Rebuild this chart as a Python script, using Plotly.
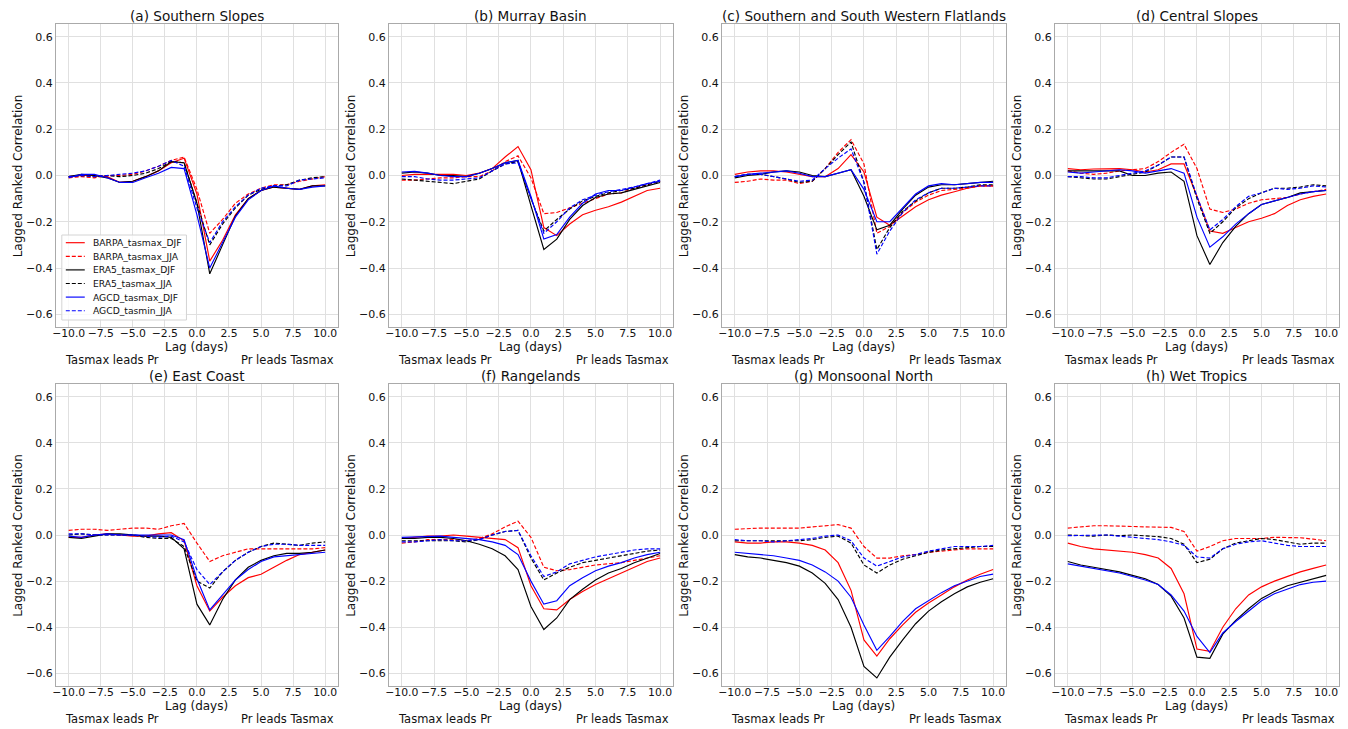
import plotly.graph_objects as go

# Lag in days (negative: Tasmax leads Pr, positive: Pr leads Tasmax)
lags = list(range(-10, 11))

regions = [
    "(a) Southern Slopes",
    "(b) Murray Basin",
    "(c) Southern and South Western Flatlands",
    "(d) Central Slopes",
    "(e) East Coast",
    "(f) Rangelands",
    "(g) Monsoonal North",
    "(h) Wet Tropics",
]

# One row per region, in the order of `regions`
barpa_tasmax_djf = [
    [-0.005, 0.0, 0.0, -0.005, -0.03, -0.025, -0.005, 0.02, 0.055, 0.075, -0.08, -0.37, -0.28, -0.17, -0.1, -0.065, -0.05, -0.055, -0.06, -0.045, -0.04],
    [0.0, 0.005, 0.005, 0.005, 0.005, 0.0, 0.01, 0.03, 0.08, 0.125, 0.025, -0.225, -0.26, -0.21, -0.17, -0.15, -0.135, -0.115, -0.09, -0.065, -0.055],
    [0.005, 0.015, 0.02, 0.02, 0.015, 0.005, -0.005, -0.005, 0.03, 0.09, 0.015, -0.18, -0.215, -0.175, -0.135, -0.105, -0.085, -0.07, -0.055, -0.045, -0.045],
    [0.03, 0.025, 0.028, 0.03, 0.03, 0.025, 0.015, 0.025, 0.05, 0.05, -0.09, -0.24, -0.25, -0.225, -0.2, -0.185, -0.165, -0.13, -0.105, -0.09, -0.08],
    [-0.01, -0.01, 0.0, 0.005, 0.0, -0.005, -0.005, 0.005, 0.01, -0.025, -0.22, -0.33, -0.27, -0.22, -0.185, -0.17, -0.14, -0.11, -0.085, -0.075, -0.065],
    [-0.015, -0.01, -0.005, -0.005, 0.0, -0.005, -0.01, -0.015, -0.02, -0.055, -0.22, -0.32, -0.325, -0.28, -0.245, -0.215, -0.19, -0.165, -0.14, -0.115, -0.1],
    [-0.03, -0.035, -0.035, -0.03, -0.03, -0.035, -0.045, -0.065, -0.12, -0.24, -0.455, -0.525, -0.45, -0.39, -0.335, -0.295, -0.26, -0.225, -0.195, -0.17, -0.15],
    [-0.035, -0.05, -0.06, -0.065, -0.07, -0.075, -0.085, -0.1, -0.145, -0.255, -0.495, -0.505, -0.4, -0.32, -0.26, -0.225, -0.2, -0.18, -0.16, -0.145, -0.13],
]

barpa_tasmax_jja = [
    [-0.01, -0.005, -0.01, 0.0, 0.0, 0.005, 0.02, 0.04, 0.065, 0.08, -0.06, -0.25, -0.19, -0.12, -0.08, -0.055, -0.04, -0.04, -0.025, -0.015, -0.005],
    [-0.02, -0.02, -0.015, -0.01, -0.01, -0.005, -0.005, 0.02, 0.06, 0.085, -0.01, -0.165, -0.16, -0.14, -0.12, -0.1, -0.08, -0.075, -0.055, -0.04, -0.025],
    [-0.03, -0.025, -0.015, -0.02, -0.02, -0.035, -0.025, 0.03, 0.1, 0.155, 0.05, -0.25, -0.22, -0.16, -0.115, -0.085, -0.065, -0.06, -0.055, -0.045, -0.045],
    [0.02, 0.01, 0.005, 0.01, 0.02, 0.025, 0.03, 0.06, 0.1, 0.135, 0.03, -0.145, -0.16, -0.145, -0.12, -0.105, -0.1, -0.095, -0.08, -0.07, -0.06],
    [0.02, 0.025, 0.025, 0.02, 0.025, 0.03, 0.03, 0.025, 0.04, 0.05, -0.035, -0.115, -0.09, -0.075, -0.06, -0.06, -0.06, -0.06, -0.06, -0.06, -0.055],
    [-0.035, -0.03, -0.02, -0.02, -0.02, -0.025, -0.015, 0.005, 0.035, 0.06, -0.01, -0.14, -0.155, -0.15, -0.14, -0.13, -0.125, -0.12, -0.11, -0.1, -0.09],
    [0.025, 0.028, 0.03, 0.03, 0.03, 0.03, 0.035, 0.04, 0.045, 0.03, -0.05, -0.1, -0.1, -0.09, -0.085, -0.075, -0.07, -0.065, -0.06, -0.06, -0.06],
    [0.03, 0.035, 0.04, 0.04, 0.04, 0.037, 0.035, 0.035, 0.033, 0.015, -0.07, -0.05, -0.025, -0.015, -0.015, -0.015, -0.01, -0.01, -0.012, -0.018, -0.025],
]

era5_tasmax_djf = [
    [-0.005, 0.005, 0.0, -0.01, -0.03, -0.025, -0.005, 0.02, 0.06, 0.055, -0.12, -0.425, -0.3, -0.175, -0.1, -0.065, -0.05, -0.055, -0.06, -0.045, -0.045],
    [0.01, 0.015, 0.01, 0.0, 0.0, -0.005, 0.01, 0.03, 0.055, 0.065, -0.13, -0.32, -0.275, -0.19, -0.13, -0.095, -0.08, -0.075, -0.06, -0.045, -0.03],
    [-0.01, 0.0, 0.005, 0.015, 0.02, 0.015, 0.0, -0.005, 0.01, 0.025, -0.09, -0.235, -0.215, -0.145, -0.085, -0.05, -0.04, -0.04, -0.035, -0.03, -0.025],
    [0.02, 0.02, 0.02, 0.02, 0.02, 0.0, 0.0, 0.01, 0.015, -0.025, -0.26, -0.385, -0.29, -0.22, -0.165, -0.125, -0.11, -0.095, -0.075, -0.07, -0.065],
    [-0.01, -0.015, -0.005, 0.005, 0.005, 0.0, -0.005, -0.005, -0.01, -0.06, -0.3, -0.39, -0.28, -0.195, -0.14, -0.11, -0.09, -0.08, -0.08, -0.075, -0.065],
    [-0.015, -0.015, -0.01, -0.01, -0.015, -0.025, -0.04, -0.06, -0.09, -0.15, -0.31, -0.41, -0.36, -0.28, -0.235, -0.195, -0.165, -0.145, -0.12, -0.1, -0.08],
    [-0.085, -0.095, -0.1, -0.11, -0.12, -0.135, -0.165, -0.21, -0.28, -0.4, -0.57, -0.62, -0.53, -0.455, -0.385, -0.33, -0.29, -0.255, -0.225, -0.205, -0.19],
    [-0.115, -0.13, -0.14, -0.15, -0.16, -0.175, -0.19, -0.215, -0.265, -0.36, -0.53, -0.535, -0.43, -0.37, -0.32, -0.275, -0.245, -0.22, -0.205, -0.19, -0.175],
]

era5_tasmax_jja = [
    [-0.005, 0.0, -0.005, 0.0, -0.005, 0.0, 0.01, 0.03, 0.06, 0.055, -0.12, -0.3, -0.21, -0.14, -0.085, -0.06, -0.045, -0.04, -0.02, -0.01, -0.005],
    [-0.015, -0.02, -0.025, -0.03, -0.035, -0.025, -0.015, 0.02, 0.05, 0.06, -0.1, -0.24, -0.19, -0.145, -0.11, -0.09, -0.075, -0.065, -0.055, -0.04, -0.025],
    [-0.005, 0.005, 0.005, -0.005, -0.015, -0.03, -0.025, 0.03, 0.09, 0.145, -0.03, -0.32, -0.225, -0.155, -0.11, -0.075, -0.055, -0.055, -0.05, -0.04, -0.04],
    [-0.005, -0.01, -0.015, -0.015, -0.005, 0.005, 0.015, 0.045, 0.08, 0.08, -0.1, -0.25, -0.2, -0.14, -0.1, -0.075, -0.055, -0.055, -0.05, -0.04, -0.045],
    [0.0, 0.005, 0.0, 0.0, 0.0, 0.0, -0.01, -0.015, -0.015, -0.05, -0.2, -0.23, -0.16, -0.11, -0.075, -0.05, -0.035, -0.04, -0.045, -0.035, -0.03],
    [-0.025, -0.025, -0.025, -0.025, -0.025, -0.03, -0.02, 0.0, 0.015, 0.02, -0.1, -0.195, -0.165, -0.14, -0.12, -0.11, -0.1, -0.09, -0.08, -0.07, -0.065],
    [-0.025, -0.025, -0.025, -0.025, -0.025, -0.025, -0.02, -0.01, -0.005, -0.035, -0.13, -0.165, -0.13, -0.105, -0.09, -0.075, -0.065, -0.06, -0.055, -0.05, -0.05],
    [0.0, -0.003, -0.005, 0.0, -0.003, 0.0, -0.003, -0.007, -0.015, -0.04, -0.12, -0.105, -0.06, -0.035, -0.025, -0.015, -0.02, -0.03, -0.04, -0.035, -0.035],
]

agcd_tasmax_djf = [
    [-0.01, 0.005, 0.005, -0.01, -0.03, -0.03, -0.01, 0.01, 0.035, 0.03, -0.17, -0.4, -0.29, -0.18, -0.105, -0.065, -0.045, -0.055, -0.06, -0.05, -0.045],
    [0.015, 0.018, 0.01, 0.0, -0.005, -0.005, 0.01, 0.03, 0.055, 0.065, -0.09, -0.275, -0.255, -0.18, -0.12, -0.08, -0.065, -0.065, -0.05, -0.035, -0.025],
    [-0.005, 0.005, 0.01, 0.015, 0.02, 0.01, -0.005, -0.005, 0.01, 0.025, -0.06, -0.2, -0.2, -0.14, -0.08, -0.045, -0.035, -0.04, -0.035, -0.03, -0.03],
    [0.015, 0.01, 0.015, 0.02, 0.025, 0.02, 0.01, 0.02, 0.03, 0.01, -0.18, -0.31, -0.265, -0.21, -0.165, -0.125, -0.11, -0.095, -0.08, -0.07, -0.065],
    [-0.005, -0.01, 0.0, 0.005, 0.0, 0.0, 0.0, 0.0, 0.0, -0.02, -0.19, -0.325, -0.26, -0.195, -0.15, -0.115, -0.095, -0.09, -0.085, -0.08, -0.075],
    [-0.01, -0.008, -0.005, -0.005, -0.01, -0.015, -0.02, -0.03, -0.045, -0.085, -0.2, -0.3, -0.285, -0.22, -0.185, -0.155, -0.135, -0.12, -0.1, -0.085, -0.075],
    [-0.075, -0.08, -0.085, -0.09, -0.1, -0.11, -0.13, -0.16, -0.2, -0.27, -0.39, -0.5, -0.44, -0.375, -0.32, -0.285, -0.25, -0.22, -0.2, -0.18, -0.17],
    [-0.125, -0.135, -0.145, -0.155, -0.165, -0.18, -0.195, -0.215, -0.26, -0.33, -0.44, -0.51, -0.425, -0.375, -0.33, -0.285, -0.255, -0.235, -0.215, -0.205, -0.2],
]

agcd_tasmin_jja = [
    [-0.005, 0.0, -0.005, 0.0, 0.005, 0.01, 0.02, 0.04, 0.065, 0.04, -0.14, -0.29, -0.2, -0.135, -0.085, -0.055, -0.045, -0.045, -0.02, -0.015, -0.01],
    [-0.005, -0.005, -0.015, -0.02, -0.02, -0.015, -0.01, 0.02, 0.05, 0.055, -0.095, -0.25, -0.2, -0.14, -0.105, -0.085, -0.07, -0.06, -0.05, -0.035, -0.02],
    [-0.005, 0.005, 0.005, -0.005, -0.015, -0.025, -0.02, 0.03, 0.075, 0.115, -0.03, -0.34, -0.24, -0.16, -0.105, -0.075, -0.055, -0.055, -0.05, -0.045, -0.045],
    [-0.005, -0.005, -0.01, -0.01, 0.0, 0.01, 0.02, 0.045, 0.08, 0.08, -0.09, -0.235, -0.19, -0.135, -0.09, -0.075, -0.055, -0.06, -0.055, -0.045, -0.05],
    [0.005, 0.005, 0.0, 0.0, 0.0, 0.0, -0.005, -0.01, -0.005, -0.03, -0.15, -0.215, -0.16, -0.11, -0.075, -0.05, -0.04, -0.04, -0.045, -0.045, -0.045],
    [-0.03, -0.03, -0.025, -0.02, -0.025, -0.025, -0.02, 0.0, 0.015, 0.02, -0.09, -0.18, -0.16, -0.125, -0.11, -0.095, -0.085, -0.075, -0.065, -0.06, -0.06],
    [-0.02, -0.025, -0.025, -0.03, -0.025, -0.02, -0.015, -0.005, 0.0, -0.025, -0.1, -0.135, -0.115, -0.095, -0.085, -0.07, -0.06, -0.05, -0.05, -0.05, -0.045],
    [-0.003, -0.003, -0.003, 0.0, -0.005, -0.01, -0.015, -0.02, -0.03, -0.045, -0.095, -0.1, -0.06, -0.04, -0.03, -0.025, -0.035, -0.045, -0.05, -0.05, -0.05],
]

DASH = "4px,2px"
series = [
    ("BARPA_tasmax_DJF", barpa_tasmax_djf, "#ff0000", "solid"),
    ("BARPA_tasmax_JJA", barpa_tasmax_jja, "#ff0000", DASH),
    ("ERA5_tasmax_DJF", era5_tasmax_djf, "#000000", "solid"),
    ("ERA5_tasmax_JJA", era5_tasmax_jja, "#000000", DASH),
    ("AGCD_tasmax_DJF", agcd_tasmax_djf, "#0000ff", "solid"),
    ("AGCD_tasmin_JJA", agcd_tasmin_jja, "#0000ff", DASH),
]

W, H = 1348, 729
# Panel boxes in pixels: (left, right) per column, (top, bottom) per row
col_px = [(52, 335), (386, 671), (720, 1005), (1054, 1339)]
row_px = [(24, 327), (384, 686)]

FONT = "DejaVu Sans"
TXT = "#111111"
fig = go.Figure()
annotations = []
shapes = []
layout = {}

for i, region in enumerate(regions):
    r, c = divmod(i, 4)
    n = i + 1
    xname = "xaxis" if n == 1 else f"xaxis{n}"
    yname = "yaxis" if n == 1 else f"yaxis{n}"
    xref = "x" if n == 1 else f"x{n}"
    yref = "y" if n == 1 else f"y{n}"
    x0, x1 = col_px[c]
    t0, t1 = row_px[r]

    for name, data, color, dash in series:
        fig.add_trace(go.Scatter(
            x=lags, y=data[i], mode="lines", name=name,
            line=dict(color=color, width=1.15, dash=dash),
            xaxis=xref, yaxis=yref, showlegend=False,
        ))

    axis_common = dict(
        showgrid=True, gridcolor="#e0e0e0", gridwidth=1,
        showline=True, linecolor="#aaaaaa", linewidth=1, mirror=True,
        zeroline=False, ticks="", tickangle=0,
    )
    layout[xname] = dict(
        axis_common, domain=[x0 / W, x1 / W], anchor=yref,
        range=[-11, 11], tickmode="array",
        tickvals=[-10, -7.5, -5, -2.5, 0, 2.5, 5, 7.5, 10], tickformat=".1f",
        tickfont=dict(family=FONT, size=10.8, color=TXT), ticklabelstandoff=-4,
    )
    layout[yname] = dict(
        axis_common, domain=[1 - t1 / H, 1 - t0 / H], anchor=xref,
        range=[-0.655, 0.655], tickmode="array",
        tickvals=[-0.6, -0.4, -0.2, 0.0, 0.2, 0.4, 0.6], tickformat=".1f",
        tickfont=dict(family=FONT, size=11, color=TXT),
    )

    # Panel title
    annotations.append(dict(
        text=region, xref=f"{xref} domain", yref="paper",
        x=0.5, y=1 - (t0 - 8) / H, xanchor="center", yanchor="middle",
        showarrow=False, font=dict(family=FONT, size=13.6, color=TXT),
    ))
    # Y-axis label
    annotations.append(dict(
        text="Lagged Ranked Correlation", xref=f"{xref} domain", yref=f"{yref} domain",
        x=0, y=0.5, xshift=-38, textangle=-90, xanchor="center", yanchor="middle",
        showarrow=False, font=dict(family=FONT, size=12, color=TXT),
    ))
    # X-axis label
    annotations.append(dict(
        text="Lag (days)", xref=f"{xref} domain", yref="paper",
        x=0.5, y=1 - (t1 + 20) / H, xanchor="center", yanchor="middle",
        showarrow=False, font=dict(family=FONT, size=12, color=TXT),
    ))
    # Lead/lag direction notes
    annotations.append(dict(
        text="Tasmax leads Pr", xref=f"{xref} domain", yref="paper",
        x=0, xshift=7, y=1 - (t1 + 33) / H, xanchor="left", yanchor="middle",
        showarrow=False, font=dict(family=FONT, size=11.5, color=TXT),
    ))
    annotations.append(dict(
        text="Pr leads Tasmax", xref=f"{xref} domain", yref="paper",
        x=1, xshift=-2, y=1 - (t1 + 33) / H, xanchor="right", yanchor="middle",
        showarrow=False, font=dict(family=FONT, size=11.5, color=TXT),
    ))

# Compact legend box inside panel (a)
LEG_LEFT, LEG_RIGHT, LEG_TOP, LEG_BOTTOM = 58, 183, 235, 320
shapes.append(dict(
    type="rect", xref="paper", yref="paper", layer="above",
    x0=LEG_LEFT / W, x1=LEG_RIGHT / W, y0=1 - LEG_BOTTOM / H, y1=1 - LEG_TOP / H,
    fillcolor="rgba(255,255,255,0.8)", line=dict(color="#d4d4d4", width=1),
))
for k, (name, _, color, dash) in enumerate(series):
    yk = 1 - (242.7 + 13.6 * k) / H
    shapes.append(dict(
        type="line", xref="paper", yref="paper", layer="above",
        x0=62 / W, x1=81 / W, y0=yk, y1=yk,
        line=dict(color=color, width=1.15, dash=dash),
    ))
    annotations.append(dict(
        text=name, xref="paper", yref="paper", x=87 / W, y=yk,
        xanchor="left", yanchor="middle", showarrow=False,
        font=dict(family=FONT, size=9.2, color=TXT),
    ))

fig.update_layout(
    **layout,
    width=W, height=H,
    margin=dict(l=0, r=0, t=0, b=0),
    paper_bgcolor="white", plot_bgcolor="white",
    font=dict(family=FONT, color=TXT),
    annotations=annotations,
    shapes=shapes,
    showlegend=False,
)

fig.write_html("out.html")
